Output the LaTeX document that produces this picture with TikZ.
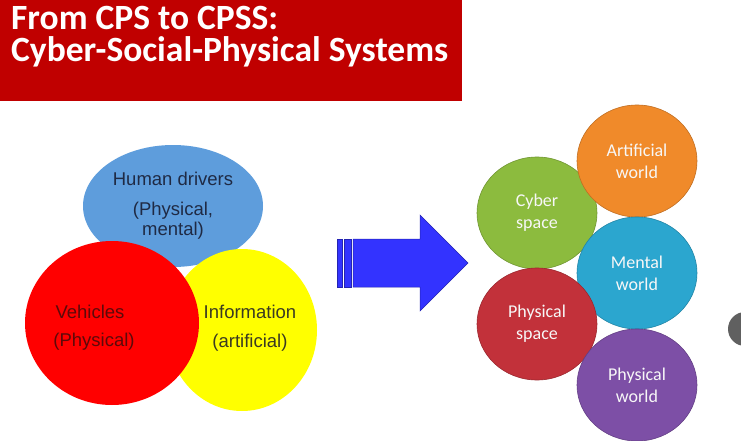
\documentclass[tikz,border=0pt]{standalone}
\usepackage{fontspec}
\setmainfont{Liberation Sans}
\newfontfamily\calibri{Carlito}
\usetikzlibrary{shapes.geometric}
\definecolor{titlered}{HTML}{C00000}
\definecolor{vblue}{HTML}{5E9DDC}
\definecolor{vred}{HTML}{FF0000}
\definecolor{vyellow}{HTML}{FFFF00}
\definecolor{arrowblue}{HTML}{3333FF}
\definecolor{corange}{HTML}{F08A2A}
\definecolor{cgreen}{HTML}{8CBB3E}
\definecolor{cblue}{HTML}{2BA6CF}
\definecolor{cred}{HTML}{C2313A}
\definecolor{cpurple}{HTML}{7D4FA6}
\definecolor{navytext}{HTML}{1F2A44}
\definecolor{maroontext}{HTML}{5C0A0A}
\definecolor{olivetext}{HTML}{3A3A22}
\tikzset{
  venn/.style={ellipse, inner sep=0pt},
  venntext/.style={font=\fontsize{18.5}{22}\selectfont, inner sep=0pt, anchor=center},
  ball/.style={ellipse, inner sep=0pt, minimum width=120pt, minimum height=112pt, line width=0.6pt,
    text=white!94!gray, font=\calibri\fontsize{18}{22}\selectfont, align=center},
  titletext/.style={text=white, font=\calibri\bfseries\fontsize{35.5}{35}\selectfont, anchor=base west, inner sep=0pt}
}
\begin{document}
\begin{tikzpicture}[x=1pt,y=-1pt]
\useasboundingbox (0,0) rectangle (741,441);
\fill[white] (0,0) rectangle (741,441);
\clip (0,0) rectangle (741,441);
% title
\fill[titlered] (0,0) rectangle (462,101);
\node[titletext] (t1) at (11,30) {From CPS to CPSS:};
\node[titletext] (t2) at (11,62) {Cyber-Social-Physical Systems};
% Venn
\node[venn, fill=vblue, minimum width=180pt, minimum height=122pt] (human) at (173,206) {};
\node[venn, fill=vyellow, minimum width=150pt, minimum height=162pt] (info) at (242,330) {};
\node[venn, fill=vred, minimum width=174pt, minimum height=164pt] (veh) at (112,323) {};
\node[venntext, text=navytext] (h1) at (173,179) {Human drivers};
\node[venntext, text=navytext] (h2) at (173,211) {(Physical,};
\node[venntext, text=navytext] (h3) at (173,231) {mental)};
\node[venntext, text=maroontext] (v1) at (90,312) {Vehicles};
\node[venntext, text=maroontext] (v2) at (94,342) {(Physical)};
\node[venntext, text=olivetext] (i1) at (250,312) {Information};
\node[venntext, text=olivetext] (i2) at (250,343) {(artificial)};
% arrow
\filldraw[fill=arrowblue, draw=arrowblue!70!black, line width=0.5pt, line join=miter]
  (353,239) -- (420,239) -- (420,215) -- (468,263) -- (420,311) -- (420,287) -- (353,287) -- cycle;
\filldraw[fill=arrowblue, draw=arrowblue!70!black, line width=0.5pt] (337,239) rectangle (342,287);
\filldraw[fill=arrowblue, draw=arrowblue!70!black, line width=0.5pt] (344,239) rectangle (351,287);
% right circles
\node[ball, fill=cgreen, draw=cgreen!80!black] (cyber) at (537,213) {Cyber\\space};
\node[ball, fill=corange, draw=corange!80!black] (art) at (637,161) {Artificial\\world};
\node[ball, fill=cblue, draw=cblue!80!black] (mental) at (637,273) {Mental\\world};
\node[ball, fill=cred, draw=cred!80!black] (pspace) at (537,324) {Physical\\space};
\node[ball, fill=cpurple, draw=cpurple!80!black] (pworld) at (637,385) {Physical\\world};
% side button
\fill[gray!75!black] (745,329) circle[radius=17];
\end{tikzpicture}
\end{document}
